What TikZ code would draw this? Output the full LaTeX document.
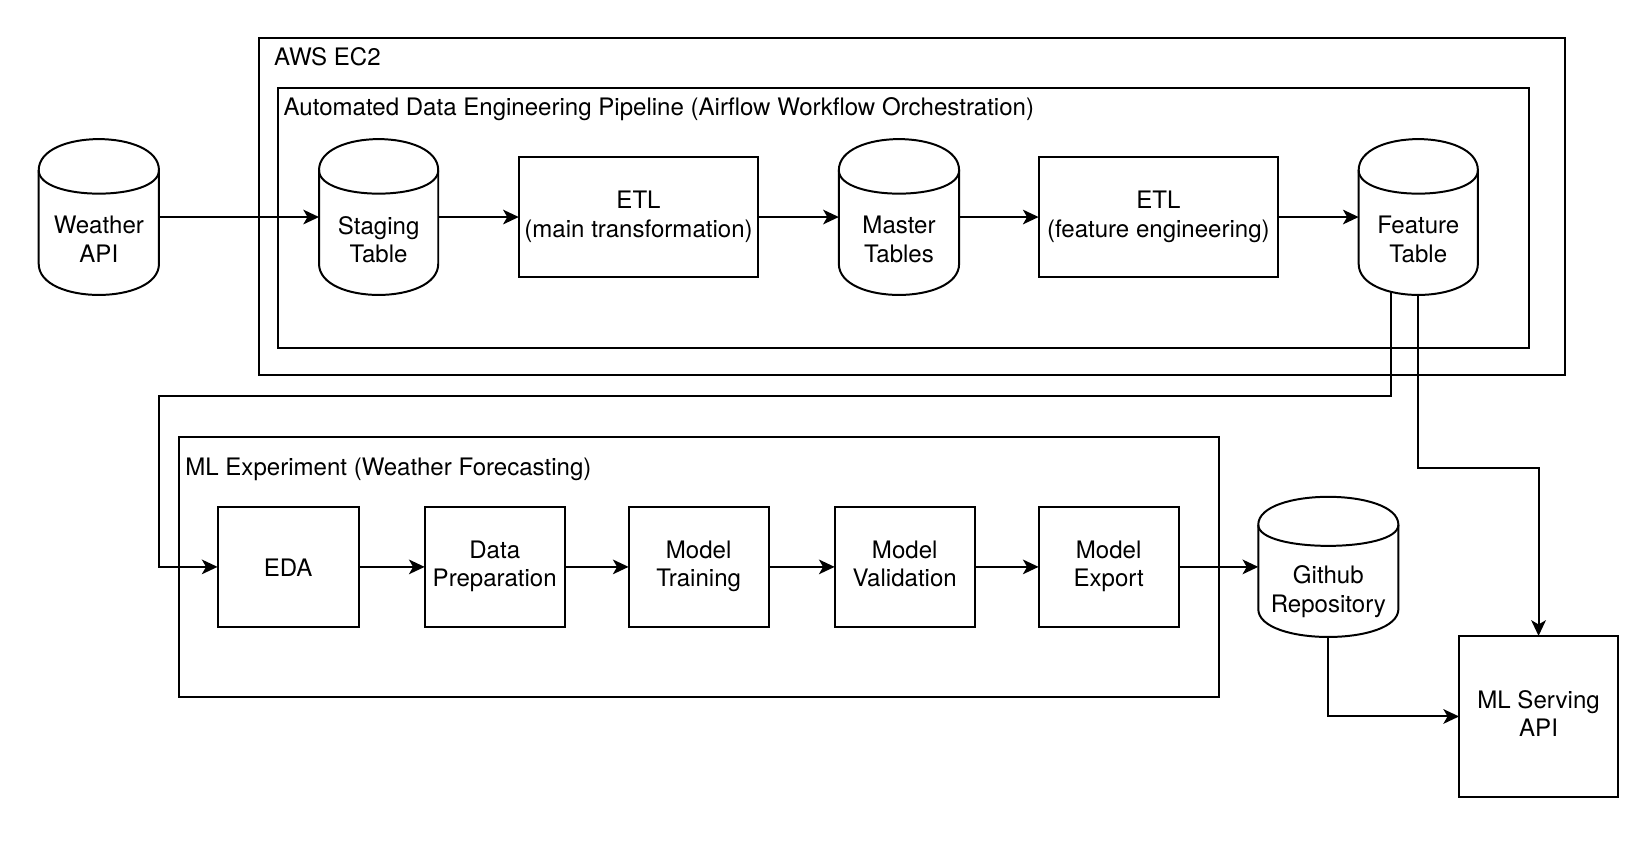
\documentclass[tikz,border=0pt]{standalone}
\usepackage{fontspec}
\setmainfont{TeX Gyre Heros}
\usetikzlibrary{arrows.meta,calc}
\newcommand\lbl{\fontsize{23}{27}\selectfont}
\newcommand\topstrut{\rule{0pt}{23.5pt}}
\newcommand\botstrut{\rule[-5.5pt]{0pt}{5.5pt}}
\tikzset{
  ln/.style={line width=1.9pt, draw=black},
  arr/.style={ln, -{Stealth[length=15pt,width=14pt,inset=4pt]}},
  txt/.style={font=\lbl, align=center, inner sep=0pt, outer sep=0pt,
    execute at begin node=\topstrut, execute at end node=\botstrut},
  box/.style={ln, rectangle, txt},
  frame/.style={ln, rectangle, inner sep=0pt, outer sep=0pt},
  title/.style={anchor=base west, font=\lbl, inner sep=0pt},
}
\newcommand\dbcyl[6]{%
  \pgfmathsetmacro\dbD{#5/5}%
  \node[draw=none, minimum width=#4pt, minimum height=#5pt, inner sep=0pt, outer sep=0pt] (#1) at ({#2+#4/2},{#3+#5/2}) {};
  \draw[ln, fill=white] ({#2},{#3+\dbD}) .. controls ({#2},{#3-\dbD/3}) and ({#2+#4},{#3-\dbD/3}) .. ({#2+#4},{#3+\dbD})
     -- ({#2+#4},{#3+#5-\dbD}) .. controls ({#2+#4},{#3+#5+\dbD/3}) and ({#2},{#3+#5+\dbD/3}) .. ({#2},{#3+#5-\dbD}) -- cycle;
  \draw[ln] ({#2},{#3+\dbD}) .. controls ({#2},{#3+2*\dbD}) and ({#2+#4},{#3+2*\dbD}) .. ({#2+#4},{#3+\dbD});
  \node[txt] (#1-t) at ({#2+#4/2},{#3+#5/2+24}) {#6};
}
\begin{document}
\begin{tikzpicture}[x=1pt,y=-1pt]
\useasboundingbox (0,0) rectangle (1568,811);
\fill[white] (0,0) rectangle (1568,811);

% containers
\node[frame, minimum width=1248pt, minimum height=323pt] (aws) at (872,197.5) {};
\node[title] (awsl) at (262,63) {AWS EC2};
\node[frame, minimum width=1196pt, minimum height=249pt] (pipe) at (864,208.5) {};
\node[title] (pipel) at (271,110.5) {Automated Data Engineering Pipeline (Airflow Workflow Orchestration)};
\node[frame, minimum width=994pt, minimum height=248pt] (mlx) at (668,542) {};
\node[title] (mlxl) at (177,455) {ML Experiment (Weather Forecasting)};

% top row
\dbcyl{weather}{37}{133}{115}{149}{Weather\\API}
\dbcyl{staging}{305}{133}{114}{149}{Staging\\Table}
\node[box, minimum width=229pt, minimum height=115pt] (etl1) at (610.5,207.5) {ETL\\(main transformation)};
\dbcyl{master}{802}{133}{115}{149}{Master\\Tables}
\node[box, minimum width=229pt, minimum height=115pt] (etl2) at (1107.5,207.5) {ETL\\(feature engineering)};
\dbcyl{feature}{1299}{133}{114}{149}{Feature\\Table}

% ML row
\node[box, minimum width=135pt, minimum height=114pt] (eda) at (275.5,542) {EDA};
\node[box, minimum width=134pt, minimum height=114pt] (prep) at (473,542) {Data\\Preparation};
\node[box, minimum width=134pt, minimum height=114pt] (train) at (668,542) {Model\\Training};
\node[box, minimum width=134pt, minimum height=114pt] (valid) at (865,542) {Model\\Validation};
\node[box, minimum width=134pt, minimum height=114pt] (export) at (1060,542) {Model\\Export};
\dbcyl{github}{1203}{475}{134}{134}{Github\\Repository}
\node[box, minimum width=152pt, minimum height=154pt] (serve) at (1471,685) {ML Serving\\API};

% connectors
\draw[arr] (weather.east) -- (staging.west);
\draw[arr] (staging.east) -- (etl1.west);
\draw[arr] (etl1.east) -- (master.west);
\draw[arr] (master.east) -- (etl2.west);
\draw[arr] (etl2.east) -- (feature.west);

\coordinate (fout) at (1330,279);
\coordinate (k1) at (152,379);
\draw[arr] (fout) |- (k1) |- (eda.west);
\draw[arr] (feature.south) -- ++(0,165) -| (serve.north);

\draw[arr] (eda.east) -- (prep.west);
\draw[arr] (prep.east) -- (train.west);
\draw[arr] (train.east) -- (valid.west);
\draw[arr] (valid.east) -- (export.west);
\draw[arr] (export.east) -- (github.west);
\draw[arr] (github.south) |- (serve.west);
\end{tikzpicture}
\end{document}
